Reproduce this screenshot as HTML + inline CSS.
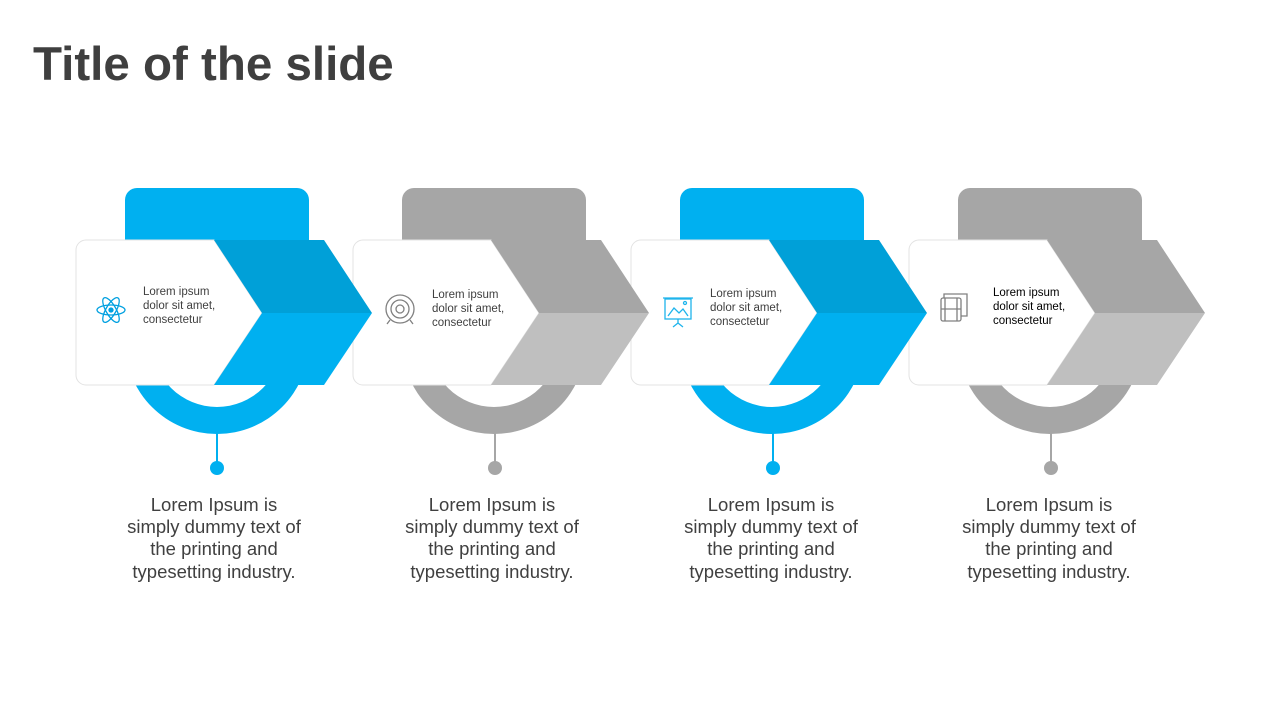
<!DOCTYPE html>
<html><head><meta charset="utf-8"><style>
body{margin:0;background:#fff;}
svg{display:block;font-family:"Liberation Sans",Arial,sans-serif;}
</style></head><body>
<svg width="1280" height="720" viewBox="0 0 1280 720">
<text x="33" y="80" font-size="47.5" font-weight="bold" fill="#3f3f3f">Title of the slide</text>
<defs>
<path id="card" d="M86,240 H214 L262,313 L214,385 H86 A10,10 0 0 1 76,375 V250 A10,10 0 0 1 86,240 Z" fill="#fff" stroke="#e3e3e3" stroke-width="1"/>
<path id="bg" d="M125,200 A12,12 0 0 1 137,188 H297 A12,12 0 0 1 309,200 V342 H125 Z M125,342 A92,92 0 0 0 309,342 H282 A65,65 0 0 1 152,342 Z"/>
<polygon id="ct" points="214,240 324,240 372,313 262,313"/>
<polygon id="cb" points="262,313 372,313 324,385 214,385"/>
</defs>

<!-- layer: backgrounds + cards -->
<g><use href="#bg" fill="#00B0F0"/><use href="#card"/></g>
<g transform="translate(277,0)"><use href="#bg" fill="#A6A6A6"/><use href="#card"/></g>
<g transform="translate(555,0)"><use href="#bg" fill="#00B0F0"/><use href="#card"/></g>
<g transform="translate(833,0)"><use href="#bg" fill="#A6A6A6"/><use href="#card"/></g>

<!-- layer: chevrons -->
<g><use href="#ct" fill="#00A0D8"/><use href="#cb" fill="#00B0F0"/></g>
<g transform="translate(277,0)"><use href="#ct" fill="#A6A6A6"/><use href="#cb" fill="#BFBFBF"/></g>
<g transform="translate(555,0)"><use href="#ct" fill="#00A0D8"/><use href="#cb" fill="#00B0F0"/></g>
<g transform="translate(833,0)"><use href="#ct" fill="#A6A6A6"/><use href="#cb" fill="#BFBFBF"/></g>

<g>
 <line x1="217" y1="407" x2="217" y2="466" stroke="#00B0F0" stroke-width="2"/>
 <circle cx="217" cy="468" r="7" fill="#00B0F0"/>
 <g fill="none" stroke="#00A0E0" stroke-width="1.3">
  <ellipse cx="111" cy="310" rx="14" ry="5"/>
  <ellipse cx="111" cy="310" rx="14" ry="5" transform="rotate(60 111 310)"/>
  <ellipse cx="111" cy="310" rx="14" ry="5" transform="rotate(-60 111 310)"/>
  <circle cx="111" cy="310" r="2" fill="#00A0E0"/>
 </g>
 <text font-size="11.5" fill="#404040"><tspan x="143" y="295">Lorem ipsum</tspan><tspan x="143" y="309">dolor sit amet,</tspan><tspan x="143" y="323">consectetur</tspan></text>
 <text font-size="18.5" fill="#404040" text-anchor="middle"><tspan x="214" y="511">Lorem Ipsum is</tspan><tspan x="214" y="533">simply dummy text of</tspan><tspan x="214" y="555">the printing and</tspan><tspan x="214" y="578">typesetting industry.</tspan></text>
</g>

<g transform="translate(277,0)">
 <line x1="218" y1="407" x2="218" y2="466" stroke="#A6A6A6" stroke-width="2"/>
 <circle cx="218" cy="468" r="7" fill="#A6A6A6"/>
 <g fill="none" stroke="#808080" stroke-width="1.3">
  <circle cx="123" cy="309" r="14"/><circle cx="123" cy="309" r="9"/><circle cx="123" cy="309" r="4"/>
  <path d="M113,320 L110,324 M133,320 L136,324"/>
 </g>
 <text font-size="11.5" fill="#404040"><tspan x="155" y="298">Lorem ipsum</tspan><tspan x="155" y="312">dolor sit amet,</tspan><tspan x="155" y="326">consectetur</tspan></text>
 <text font-size="18.5" fill="#404040" text-anchor="middle"><tspan x="215" y="511">Lorem Ipsum is</tspan><tspan x="215" y="533">simply dummy text of</tspan><tspan x="215" y="555">the printing and</tspan><tspan x="215" y="578">typesetting industry.</tspan></text>
</g>

<g transform="translate(555,0)">
 <line x1="218" y1="407" x2="218" y2="466" stroke="#00B0F0" stroke-width="2"/>
 <circle cx="218" cy="468" r="7" fill="#00B0F0"/>
 <g fill="none" stroke="#1EB4EC" stroke-width="1.3">
  <rect x="110" y="299" width="26" height="20"/>
  <line x1="108" y1="298" x2="138" y2="298"/>
  <path d="M113,316 L119,308 L124,313 L128,309 L133,316"/>
  <circle cx="130" cy="303" r="1.5"/>
  <path d="M123,319 V323 M123,323 L118,327 M123,323 L128,327"/>
 </g>
 <text font-size="11.5" fill="#404040"><tspan x="155" y="297">Lorem ipsum</tspan><tspan x="155" y="311">dolor sit amet,</tspan><tspan x="155" y="325">consectetur</tspan></text>
 <text font-size="18.5" fill="#404040" text-anchor="middle"><tspan x="216" y="511">Lorem Ipsum is</tspan><tspan x="216" y="533">simply dummy text of</tspan><tspan x="216" y="555">the printing and</tspan><tspan x="216" y="578">typesetting industry.</tspan></text>
</g>

<g transform="translate(833,0)">
 <line x1="218" y1="433" x2="218" y2="466" stroke="#A6A6A6" stroke-width="2"/>
 <circle cx="218" cy="468" r="7" fill="#A6A6A6"/>
 <g fill="none" stroke="#808080" stroke-width="1.3">
  <rect x="108" y="298" width="20" height="23" rx="2"/>
  <path d="M111,298 V294 H134 V316 H128"/>
  <line x1="112" y1="298" x2="112" y2="321"/><line x1="124" y1="298" x2="124" y2="321"/>
  <line x1="108" y1="309" x2="128" y2="309"/>
 </g>
 <text font-size="11.5" fill="#000"><tspan x="160" y="296">Lorem ipsum</tspan><tspan x="160" y="310">dolor sit amet,</tspan><tspan x="160" y="324">consectetur</tspan></text>
 <text font-size="18.5" fill="#404040" text-anchor="middle"><tspan x="216" y="511">Lorem Ipsum is</tspan><tspan x="216" y="533">simply dummy text of</tspan><tspan x="216" y="555">the printing and</tspan><tspan x="216" y="578">typesetting industry.</tspan></text>
</g>
</svg>
</body></html>
